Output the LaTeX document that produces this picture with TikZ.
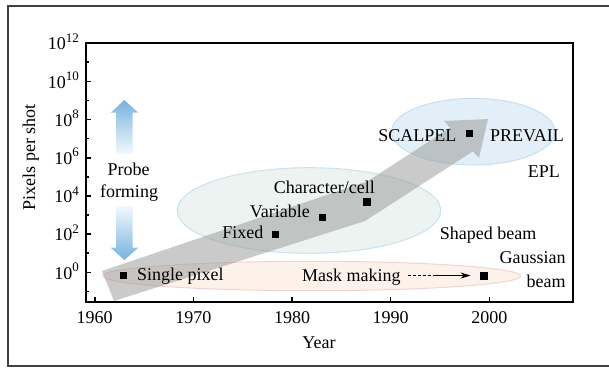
\documentclass[tikz,border=0pt]{standalone}
\usepackage{fontspec}
\setmainfont{Liberation Serif}
\usetikzlibrary{arrows.meta}

% power-of-ten tick label
\newcommand\tenpow[1]{10\raisebox{0.42em}{\fontsize{13}{13}\selectfont #1}}

\definecolor{peachfill}{RGB}{253,242,233}
\definecolor{peachline}{RGB}{238,212,210}
\definecolor{sagefill}{RGB}{236,243,240}
\definecolor{sageline}{RGB}{200,226,238}
\definecolor{skyfill}{RGB}{226,239,248}
\definecolor{skyline}{RGB}{196,224,240}
\definecolor{probeblue}{RGB}{118,178,222}
\definecolor{trendgray}{RGB}{150,150,150}

\begin{document}
\begin{tikzpicture}[x=1pt,y=-1pt,
  lbl/.style={font=\fontsize{18}{21}\selectfont, inner sep=0pt},
  dot/.style={rectangle, fill=black, inner sep=0pt, minimum size=7.5pt},
  probearrow/.style={line width=0pt}]
\useasboundingbox (0,0) rectangle (609,369);

% outer frame
\draw[line width=1.4pt, black!75] (609,6) -- (8,6) -- (8,366) -- (609,366);

% technology groups
\draw[fill=peachfill, draw=peachline, line width=1pt] (311.7,276) ellipse [x radius=209, y radius=14.7];
\draw[fill=sagefill, draw=sageline, line width=1pt] (309,210.5) ellipse [x radius=131.7, y radius=42.8];
\draw[fill=skyfill, draw=skyline, line width=1pt] (473.3,131.7) ellipse [x radius=81.7, y radius=33.3];

% trend arrow
\fill[trendgray, fill opacity=0.5] (102,271) -- (114,301) -- (365,221) -- (472.8,151.4)
  -- (479,158) -- (488,119) -- (444,121) -- (450.2,127.6) -- (368,181) -- cycle;

% probe forming arrows
\shade[top color=probeblue, bottom color=probeblue!8] (116,154) -- (116,112.7) -- (110.7,112.7)
  -- (124.3,100) -- (138.3,112.7) -- (132.7,112.7) -- (132.7,154) -- cycle;
\shade[top color=probeblue!8, bottom color=probeblue] (116,205.7) -- (116,247.7) -- (110.7,247.7)
  -- (124.3,260) -- (138.3,247.7) -- (132.7,247.7) -- (132.7,205.7) -- cycle;
\node[lbl, anchor=base] (probe) at (128.5,175.3) {Probe};
\node[lbl, anchor=base] (forming) at (129,197.3) {forming};

% axes box and ticks
\draw[line width=2.2pt] (86,43) rectangle (572.7,301.7);
\foreach \e in {0,2,...,10}
  \draw[line width=1.6pt] (86,{272.3-19.1*\e}) -- ++(5,0);
\foreach \e in {-1,1,...,11}
  \draw[line width=1.6pt] (86,{272.3-19.1*\e}) -- ++(3,0);
\foreach \yr in {1960,1970,...,2000}
  \draw[line width=1.6pt] ({94.7+9.865*(\yr-1960)},301.7) -- ++(0,-5);

% tick labels
\foreach \e in {0,2,...,12}
  \node[lbl, anchor=base east] (ytick\e) at (79,{279-19.1*\e}) {\tenpow{\e}};
\foreach \yr in {1960,1970,...,2000}
  \node[lbl, anchor=base] (xtick\yr) at ({94.7+9.865*(\yr-1960)},323.3) {\yr};

% axis titles
\node[lbl, anchor=base, rotate=90] (ytitle) at (35,157.5) {Pixels per shot};
\node[lbl, anchor=base] (xtitle) at (319,348) {Year};

% data points and labels
\node[dot] (p1) at (123.3,275.7) {};
\node[lbl, anchor=base west] (single) at (137,280.5) {Single pixel};
\node[dot] (p2) at (275.7,234.3) {};
\node[lbl, anchor=base east] (fixed) at (263.5,238.7) {Fixed};
\node[dot] (p3) at (322.7,217.3) {};
\node[lbl, anchor=base east] (variable) at (310,217) {Variable};
\node[dot] (p4) at (367,202) {};
\node[lbl, anchor=base] (charcell) at (324.3,193.7) {Character/cell};
\node[dot] (p5) at (469.3,133.3) {};
\node[lbl, anchor=base east] (scalpel) at (456.5,141.7) {SCALPEL};
\node[lbl, anchor=base west] (prevail) at (490,141.7) {PREVAIL};
\node[lbl, anchor=base east] (epl) at (560,177.3) {EPL};
\node[lbl, anchor=base] (shaped) at (488,239.7) {Shaped beam};
\node[lbl, anchor=base east] (gauss) at (565.7,263.7) {Gaussian};
\node[lbl, anchor=base east] (gbeam) at (565.7,287.3) {beam};
\node[dot] (p6) at (484,276) {};
\node[lbl, anchor=base west] (mask) at (302,281) {Mask making};

% mask making arrow
\coordinate (dashend) at (434,275.5);
\draw[line width=0.9pt, dash pattern=on 3pt off 2pt] ([xshift=7pt]mask.east |- dashend) -- (dashend);
\draw[line width=0.9pt, -{Stealth[length=10pt,width=6pt]}] (dashend) -- ([xshift=-9.5pt]p6.west |- dashend);
\end{tikzpicture}
\end{document}
